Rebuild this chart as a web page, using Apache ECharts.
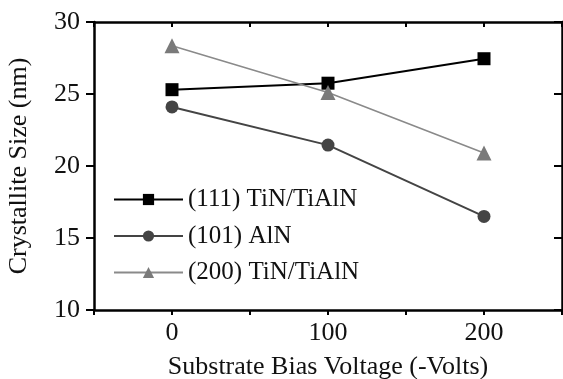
<!DOCTYPE html>
<html>
<head>
<meta charset="utf-8">
<script src="https://cdn.jsdelivr.net/npm/echarts@6/dist/echarts.min.js"></script>
<style>html,body{margin:0;padding:0;background:#fff}#c{width:563px;height:379px}</style>
</head>
<body>
<div id="c"></div>
<script>
var voltages = [0, 100, 200];
var tin111 = [25.3, 25.75, 27.45];
var aln101 = [24.1, 21.45, 16.5];
var tin200 = [28.35, 25.1, 20.9];
var xTickLabels = ['0', '100', '200'];
var seriesNames = ['(111) TiN/TiAlN', '(101) AlN', '(200) TiN/TiAlN'];

function pairs(vals) { return voltages.map(function (v, i) { return [v, vals[i]]; }); }

var font = 'Liberation Serif';
var chart = echarts.init(document.getElementById('c'), null, { renderer: 'canvas' });
chart.setOption({
  animation: false,
  backgroundColor: '#fff',
  grid: { left: 94, right: 1, top: 22, bottom: 69, containLabel: false, outerBoundsMode: 'none' },
  legend: {
    left: 113, top: 187, orient: 'vertical', padding: 0,
    itemWidth: 69, itemHeight: 14, itemGap: 11.5,
    textStyle: { fontFamily: font, fontSize: 25, color: '#111' },
    data: seriesNames
  },
  xAxis: [{
    type: 'value', min: -50, max: 250, interval: 50, position: 'bottom',
    name: 'Substrate Bias Voltage (-Volts)', nameLocation: 'middle', nameGap: 44,
    nameTextStyle: { fontFamily: font, fontSize: 26, color: '#111' },
    axisLine: { show: true, onZero: false, lineStyle: { color: '#000', width: 2.5 } },
    axisTick: { show: true, inside: false, length: 5, lineStyle: { color: '#000', width: 2 } },
    axisLabel: {
      margin: 10, fontFamily: font, fontSize: 26, color: '#111',
      formatter: function (v) { var s = String(v); return xTickLabels.indexOf(s) >= 0 ? s : ''; }
    },
    splitLine: { show: false }
  }, {
    type: 'value', min: -50, max: 250, interval: 50, position: 'top',
    axisLine: { show: true, onZero: false, lineStyle: { color: '#000', width: 2.5 } },
    axisTick: { show: true, inside: true, length: 5, lineStyle: { color: '#000', width: 2 } },
    axisLabel: { show: false }, splitLine: { show: false }
  }],
  yAxis: [{
    type: 'value', min: 10, max: 30, interval: 5, position: 'left',
    name: 'Crystallite Size (nm)', nameLocation: 'middle', nameGap: 62, nameRotate: 90,
    nameTextStyle: { fontFamily: font, fontSize: 26, color: '#111' },
    axisLine: { show: true, onZero: false, lineStyle: { color: '#000', width: 2.5 } },
    axisTick: { show: true, inside: false, length: 8, lineStyle: { color: '#000', width: 2 } },
    axisLabel: { margin: 14, fontFamily: font, fontSize: 26, color: '#111' },
    splitLine: { show: false }
  }, {
    type: 'value', min: 10, max: 30, interval: 5, position: 'right',
    axisLine: { show: true, onZero: false, lineStyle: { color: '#000', width: 2.5 } },
    axisTick: { show: true, inside: true, length: 8, lineStyle: { color: '#000', width: 2 } },
    axisLabel: { show: false }, splitLine: { show: false }
  }],
  series: [{
    name: seriesNames[0], type: 'line', data: pairs(tin111),
    symbol: 'rect', symbolSize: 13,
    lineStyle: { color: '#000', width: 2 }, itemStyle: { color: '#000' }
  }, {
    name: seriesNames[1], type: 'line', data: pairs(aln101),
    symbol: 'circle', symbolSize: 13,
    lineStyle: { color: '#444', width: 2 }, itemStyle: { color: '#444' }
  }, {
    name: seriesNames[2], type: 'line', data: pairs(tin200),
    symbol: 'triangle', symbolSize: 15,
    lineStyle: { color: '#8a8a8a', width: 1.6 }, itemStyle: { color: '#7a7a7a' }
  }]
});
</script>
</body>
</html>
